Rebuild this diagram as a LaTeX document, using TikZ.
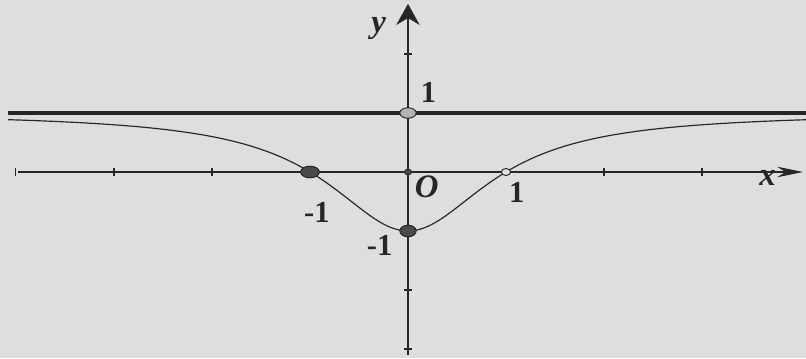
\documentclass[tikz,border=0pt]{standalone}
\usepackage{fontspec}
\setmainfont{Liberation Serif}
\usetikzlibrary{positioning, arrows.meta, shapes.geometric}
\definecolor{gInk}{HTML}{262626}
\definecolor{gPaper}{HTML}{DEDEDC}
\definecolor{gDot}{HTML}{4A4A4A}
\tikzset{
  axis/.style={gInk, line width=0.9pt},
  tick/.style={gInk, line width=0.9pt},
  dotpt/.style={ellipse, draw=gInk, fill=gDot, line width=0.8pt, inner sep=0pt},
  lbl/.style={text=gInk, font=\fontsize{26}{28}\selectfont\bfseries, inner sep=0pt},
  ilbl/.style={lbl, font=\fontsize{28}{30}\selectfont\bfseries\itshape}
}

\begin{document}
\begin{tikzpicture}[x=2.94cm, y=1.77cm, >=Stealth]
  \fill[gPaper] (-4.163,-3.153) rectangle (4.061,2.915);
  \useasboundingbox (-4.163,-3.153) rectangle (4.061,2.915);
  % axes
  \coordinate (xl) at (-3.98,0); \coordinate (xr) at (4.03,0);
  \coordinate (yb) at (0,-3.1);  \coordinate (yt) at (0,2.85);
  \draw[axis, -{Stealth[length=22pt, width=9pt]}] (xl) -- (xr);
  \draw[axis, -{Stealth[length=18pt, width=20pt]}] (yb) -- (yt);
  \foreach \k in {-4,-3,-2,2,3} {\draw[tick] (\k,-0.06) -- (\k,0.06);}
  \foreach \k in {-3,-2,2} {\draw[tick] (-0.04,\k) -- (0.04,\k);}
  % asymptote y = 1 and the curve
  \coordinate (al) at (-4.08,1); \coordinate (ar) at (4.061,1);
  \draw[gInk, line width=3.8pt] (al) -- (ar);
  \draw[gInk, line width=1pt, domain=-4.08:4.061, samples=120, smooth]
    plot (\x, {(\x*\x-1)/(\x*\x+1)});
  % points
  \node[dotpt, minimum width=16pt, minimum height=10pt] (pa) at (-1,0) {};
  \node[dotpt, minimum width=14pt, minimum height=10pt] (pb) at (0,-1) {};
  \node[dotpt, minimum width=14pt, minimum height=9pt, fill=gPaper!70!gDot] (pc) at (0,1) {};
  \node[dotpt, minimum width=8pt, minimum height=6pt, fill=gPaper] (pd) at (1,0) {};
  \node[dotpt, minimum width=6pt, minimum height=5pt] (po) at (0,0) {};
  % labels
  \node[ilbl] (ly) at (-0.3,2.44) {y};
  \node[ilbl] (lx) at (3.67,-0.1) {x};
  \node[lbl] (l1t) at (0.21,1.35) {1};
  \node[ilbl] (lo) at (0.19,-0.25) {O};
  \node[lbl] (lm1) at (-0.93,-0.68) {-1};
  \node[lbl] (l1r) at (1.11,-0.34) {1};
  \node[lbl] (lm1b) at (-0.29,-1.25) {-1};
\end{tikzpicture}
\end{document}
